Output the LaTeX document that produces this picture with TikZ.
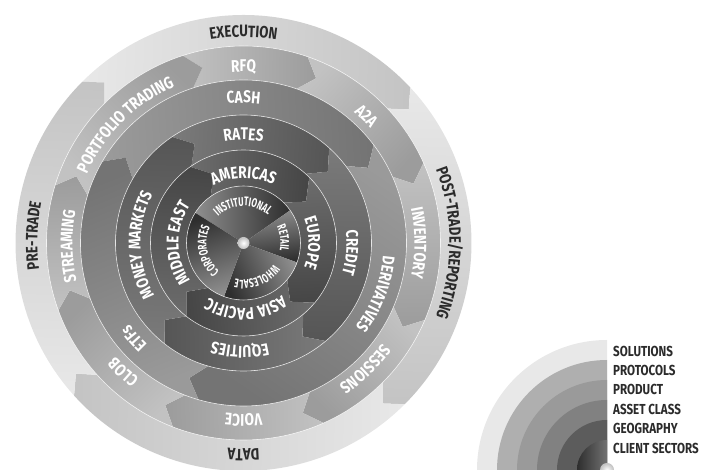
\documentclass[tikz,border=0pt]{standalone}
\usepackage{fontspec}
\newfontfamily\ringfont[FakeStretch=0.8]{Fira Sans}
\newfontfamily\clientfont[FakeStretch=0.64]{Fira Sans}
\usetikzlibrary{decorations.text}

\definecolor{solT}{HTML}{E8E8E8}
\definecolor{solH}{HTML}{C4C4C4}
\definecolor{protT}{HTML}{C2C2C2}
\definecolor{protH}{HTML}{9C9C9C}
\definecolor{prodT}{HTML}{9A9A9A}
\definecolor{prodH}{HTML}{747474}
\definecolor{assT}{HTML}{7A7A7A}
\definecolor{assH}{HTML}{565656}
\definecolor{geoT}{HTML}{6C6C6C}
\definecolor{geoH}{HTML}{464646}
\definecolor{cliT}{HTML}{8E8E8E}
\definecolor{cliH}{HTML}{2E2E2E}
\definecolor{txtdark}{HTML}{2B2B2B}

% label formats
\newcommand\lblOuter{\color{txtdark}\ringfont\bfseries\fontsize{16.5}{16.5}\selectfont}
\newcommand\lblRing{\color{white}\ringfont\bfseries\fontsize{17}{17}\selectfont}
\newcommand\lblClient{\color{white}\clientfont\bfseries\fontsize{12.5}{12.5}\selectfont}
\newcommand\lblKey{\color{txtdark}\ringfont\bfseries\fontsize{14.5}{14.5}\selectfont}

% inner r, outer r, tail angle, head angle, tail colour, head colour
\newcommand\ringseg[6]{%
  \pgfmathsetmacro\segRm{(#1+#2)/2}
  \pgfmathsetmacro\segHd{#4-15/\segRm*57.3}
  \pgfmathsetmacro\segTd{#3-15/\segRm*57.3}
  \pgfmathsetmacro\segSa{(#3+#4)/2-180}
  \shade[top color=#6, bottom color=#5, shading angle=\segSa]
    (#3:#2) arc[start angle=#3, end angle=#4, radius=#2] -- (\segHd:\segRm) -- (#4:#1)
    arc[start angle=#4, end angle=#3, radius=#1] -- (\segTd:\segRm) -- cycle;
}
% tail angle, head angle
\newcommand\sectorseg[2]{%
  \pgfmathsetmacro\segSa{(#1+#2)/2-180}
  \shade[top color=cliH, bottom color=cliT, shading angle=\segSa]
    (0,0) -- (#1:57) arc[start angle=#1, end angle=#2, radius=57] -- cycle;
}
% radius, angle, format, text
\newcommand\ringtext[4]{%
  \path[decorate, decoration={text along path, text align=center, text={|#3|#4}}]
    (#2+85:#1) arc[start angle=#2+85, end angle=#2-85, radius=#1];
}

\begin{document}
\begin{tikzpicture}[x=1pt, y=1pt,
    sepline/.style={draw=white, draw opacity=0.75, line width=0.6pt}]
    \useasboundingbox (0,0) rectangle (704,470);

    \coordinate (ctr) at (243.5,227);
    \coordinate (keyctr) at (607,0);

    \begin{scope}[shift={(ctr)}]
    % solutions
    \ringseg{197}{228}{135}{43}{solT}{solH}
    \ringseg{197}{228}{43}{-45}{solT}{solH}
    \ringseg{197}{228}{-45}{-138}{solT}{solH}
    \ringseg{197}{228}{-138}{-225}{solT}{solH}
    % protocols
    \ringseg{163}{197}{108}{71}{protT}{protH}
    \ringseg{163}{197}{71}{24}{protT}{protH}
    \ringseg{163}{197}{24}{-23}{protT}{protH}
    \ringseg{163}{197}{-23}{-66}{protT}{protH}
    \ringseg{163}{197}{-66}{-111}{protT}{protH}
    \ringseg{163}{197}{-111}{-160}{protT}{protH}
    \ringseg{163}{197}{-160}{-197}{protT}{protH}
    \ringseg{163}{197}{-197}{-252}{protT}{protH}
    % product
    \ringseg{128}{163}{150}{37}{prodT}{prodH}
    \ringseg{128}{163}{37}{-106}{prodT}{prodH}
    \ringseg{128}{163}{-106}{-210}{prodT}{prodH}
    % asset class
    \ringseg{93}{128}{124}{48}{assT}{assH}
    \ringseg{93}{128}{48}{-50}{assT}{assH}
    \ringseg{93}{128}{-50}{-128}{assT}{assH}
    \ringseg{93}{128}{-128}{-236}{assT}{assH}
    % geography
    \ringseg{57}{93}{125}{45}{geoT}{geoH}
    \ringseg{57}{93}{45}{-40}{geoT}{geoH}
    \ringseg{57}{93}{-40}{-128}{geoT}{geoH}
    \ringseg{57}{93}{-128}{-235}{geoT}{geoH}
    % client sectors
    \sectorseg{148}{35}
    \sectorseg{35}{-20}
    \sectorseg{-20}{-110}
    \sectorseg{-110}{-212}

    \draw[sepline] (0,0) circle (57);
    \draw[sepline] (0,0) circle (93);
    \draw[sepline] (0,0) circle (128);
    \draw[sepline] (0,0) circle (163);
    \draw[sepline] (0,0) circle (197);
    \shade[inner color=white, outer color=white!75!black] (0,0) circle (6);

    \ringtext{206}{90}{\lblOuter}{EXECUTION}
    \ringtext{206}{0}{\lblOuter}{POST-TRADE/REPORTING}
    \ringtext{206}{-90}{\lblOuter}{DATA}
    \ringtext{206}{178}{\lblOuter}{PRE-TRADE}

    \ringtext{171}{90}{\lblRing}{RFQ}
    \ringtext{171}{46}{\lblRing}{A2A}
    \ringtext{171}{0}{\lblRing}{INVENTORY}
    \ringtext{171}{-46}{\lblRing}{SESSIONS}
    \ringtext{171}{-90}{\lblRing}{VOICE}
    \ringtext{171}{-133}{\lblRing}{CLOB}
    \ringtext{171}{181}{\lblRing}{STREAMING}
    \ringtext{171}{135}{\lblRing}{PORTFOLIO TRADING}

    \ringtext{140}{90}{\lblRing}{CASH}
    \ringtext{140}{-21}{\lblRing}{DERIVATIVES}
    \ringtext{140}{-139}{\lblRing}{ETFs}

    \ringtext{103}{90}{\lblRing}{RATES}
    \ringtext{103}{-5}{\lblRing}{CREDIT}
    \ringtext{103}{-92}{\lblRing}{EQUITIES}
    \ringtext{103}{181}{\lblRing}{MONEY MARKETS}

    \ringtext{65}{90}{\lblRing}{AMERICAS}
    \ringtext{65}{0}{\lblRing}{EUROPE}
    \ringtext{65}{-88}{\lblRing}{ASIA PACIFIC}
    \ringtext{65}{180}{\lblRing}{MIDDLE EAST}

    \ringtext{37}{91}{\lblClient}{INSTITUTIONAL}
    \ringtext{37}{7}{\lblClient}{RETAIL}
    \ringtext{37}{-69}{\lblClient}{WHOLESALE}
    \ringtext{37}{-168}{\lblClient}{CORPORATES}
    \end{scope}

    % key
    \begin{scope}[shift={(keyctr)}]
    \fill[solT] (0,0) -- (180:130) arc[start angle=180, end angle=90, radius=130] -- cycle;
    \fill[protT!90!black] (0,0) -- (180:110) arc[start angle=180, end angle=90, radius=110] -- cycle;
    \fill[prodT] (0,0) -- (180:90) arc[start angle=180, end angle=90, radius=90] -- cycle;
    \fill[assT!95!white] (0,0) -- (180:70) arc[start angle=180, end angle=90, radius=70] -- cycle;
    \fill[geoT!85!black] (0,0) -- (180:50) arc[start angle=180, end angle=90, radius=50] -- cycle;
    \shade[left color=cliH, right color=cliT!80!black] (0,0) -- (180:30) arc[start angle=180, end angle=90, radius=30] -- cycle;
    \shade[inner color=white, outer color=white!75!black] (0,0) circle (7);
    \end{scope}

    \node[anchor=base west, inner sep=0pt] (keySol) at (613,113) {\lblKey SOLUTIONS};
    \node[anchor=base west, inner sep=0pt] (keyProt) at (613,94) {\lblKey PROTOCOLS};
    \node[anchor=base west, inner sep=0pt] (keyProd) at (613,75) {\lblKey PRODUCT};
    \node[anchor=base west, inner sep=0pt] (keyAss) at (613,55) {\lblKey ASSET CLASS};
    \node[anchor=base west, inner sep=0pt] (keyGeo) at (613,36) {\lblKey GEOGRAPHY};
    \node[anchor=base west, inner sep=0pt] (keyCli) at (613,16) {\lblKey CLIENT SECTORS};
\end{tikzpicture}
\end{document}
